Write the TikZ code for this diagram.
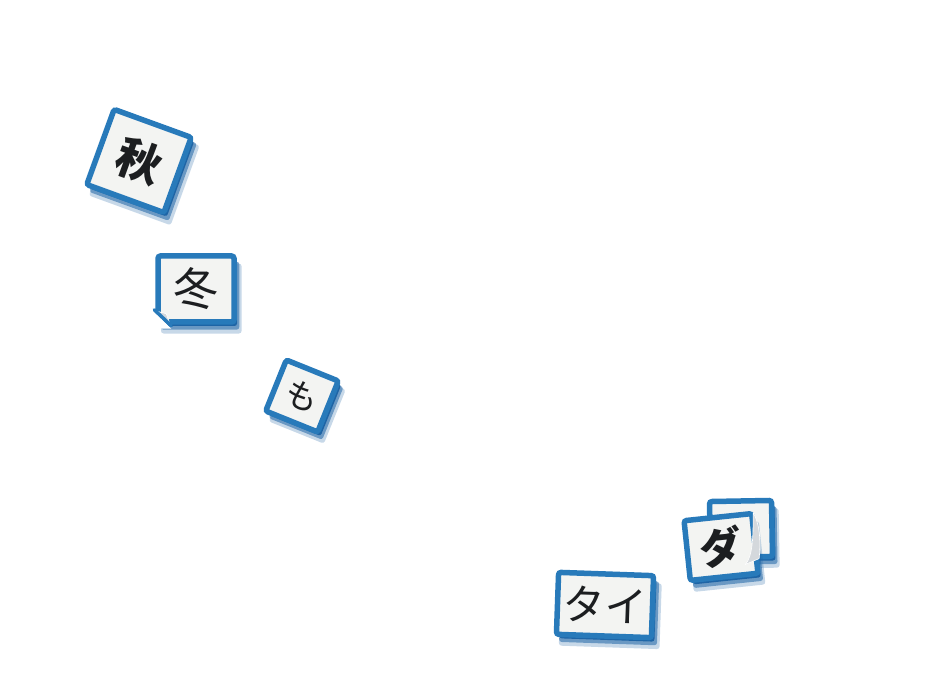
\documentclass[tikz,border=0pt]{standalone}
\usepackage{fontspec}
\newfontfamily\jp{Noto Sans CJK JP}
\usetikzlibrary{shadows}
\definecolor{noteblue}{RGB}{40,122,186}
\definecolor{shadeblue}{RGB}{30,100,165}
\definecolor{paper}{RGB}{243,244,242}
\definecolor{curl}{RGB}{212,216,220}
\definecolor{ink}{RGB}{28,30,32}
\tikzset{
  note/.style={draw=noteblue, line width=5.5pt, fill=paper, rounded corners=2.5pt,
    inner sep=0pt, text=ink, font=\jp,
    general shadow={fill=shadeblue, opacity=0.25, shadow xshift=5pt, shadow yshift=-9pt, shadow scale=1.06},
    general shadow={fill=shadeblue, opacity=0.55, shadow xshift=4pt, shadow yshift=-6.5pt, shadow scale=1.03},
    general shadow={fill=shadeblue, opacity=1, shadow xshift=3pt, shadow yshift=-4pt}},
  curlstyle/.style={fill=curl, draw=white, line width=0.6pt, line join=round}
}
\begin{document}
\begin{tikzpicture}[x=1pt,y=-1pt]
\useasboundingbox (0,0) rectangle (932,684);
% autumn
\node[note, minimum width=82pt, minimum height=80pt, rotate=-20, font=\jp\bfseries\fontsize{45}{45}\selectfont]
  (aki) at (139,161) {秋};
% winter
\node[note, minimum width=76pt, minimum height=66pt, rotate=0, font=\jp\fontsize{45}{45}\selectfont]
  (fuyu) at (196,289) {冬};
\fill[white] (fuyu.south west) ++(-4,-16) -- ++(0,20) -- ++(20,0) -- cycle;
\fill[curlstyle] (fuyu.south west) ++(0,-14) -- ++(15,14) -- ++(-4,-11) -- cycle;
\draw[noteblue, line width=3.5pt, line cap=round] (fuyu.south west) ++(-1,-15) -- ++(17,16);
% mo
\node[note, minimum width=56pt, minimum height=55pt, rotate=-22, font=\jp\fontsize{33}{33}\selectfont]
  (mo) at (302,396) {も};
% tai
\node[note, minimum width=95pt, minimum height=62pt, rotate=-2, font=\jp\fontsize{42}{42}\selectfont]
  (tai) at (605,605) {タイ};
% da (back + front)
\node[note, minimum width=62pt, minimum height=56pt, rotate=1]
  (daback) at (741,529) {};
\node[note, minimum width=68pt, minimum height=60pt, rotate=6, font=\jp\bfseries\fontsize{42}{42}\selectfont]
  (da) at (721,547) {ダ};
\fill[curlstyle] (da.north east) ++(-1,2) .. controls ++(6,10) and ++(2,-20) .. ++(6,46) -- ++(-14,6) .. controls ++(8,-8) and ++(0,20) .. ++(8,-50) -- cycle;
\end{tikzpicture}
\end{document}
